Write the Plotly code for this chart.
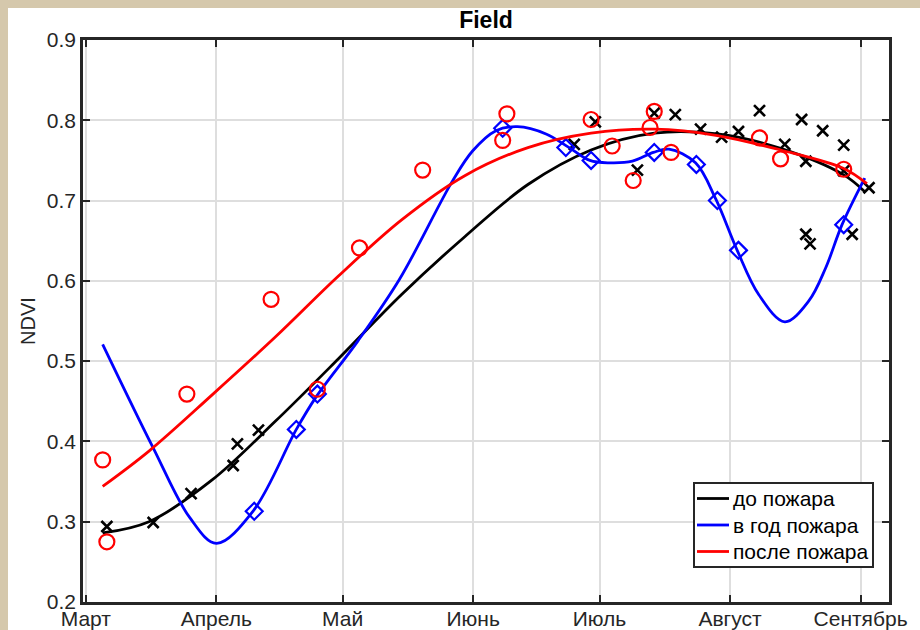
import pandas as pd
import plotly.graph_objects as go

SEASON_START = pd.Timestamp("2021-03-01")

# Month ticks
month_ticks = ["2021-03-01", "2021-04-01", "2021-05-01", "2021-06-01",
               "2021-07-01", "2021-08-01", "2021-09-01"]
month_labels = ["Март", "Апрель", "Май", "Июнь", "Июль", "Август", "Сентябрь"]

# до пожара — observations
before_dates = ["2021-03-06", "2021-03-17", "2021-03-26", "2021-04-05", "2021-04-06",
                "2021-04-11", "2021-06-25", "2021-06-30", "2021-07-10", "2021-07-14",
                "2021-07-19", "2021-07-25", "2021-07-30", "2021-08-03", "2021-08-08",
                "2021-08-14", "2021-08-18", "2021-08-19", "2021-08-19", "2021-08-20",
                "2021-08-23", "2021-08-28", "2021-08-28", "2021-08-30", "2021-09-03"]
before_ndvi = [0.294, 0.299, 0.335, 0.370, 0.397, 0.414, 0.770, 0.798, 0.738, 0.809,
               0.807, 0.789, 0.779, 0.786, 0.812, 0.770, 0.801, 0.749, 0.658, 0.646,
               0.787, 0.769, 0.737, 0.658, 0.716]

# в год пожара — observations
fire_dates = ["2021-04-10", "2021-04-20", "2021-04-25", "2021-06-08", "2021-06-23",
              "2021-06-29", "2021-07-14", "2021-07-24", "2021-07-29", "2021-08-03",
              "2021-08-28"]
fire_ndvi = [0.313, 0.415, 0.459, 0.790, 0.766, 0.750, 0.760, 0.745, 0.700, 0.638, 0.670]

# после пожара — observations
after_dates = ["2021-03-05", "2021-03-06", "2021-03-25", "2021-04-14", "2021-04-25",
               "2021-05-05", "2021-05-20", "2021-06-08", "2021-06-09", "2021-06-29",
               "2021-07-04", "2021-07-09", "2021-07-13", "2021-07-14", "2021-07-18",
               "2021-08-08", "2021-08-13", "2021-08-28"]
after_ndvi = [0.377, 0.275, 0.459, 0.577, 0.465, 0.641, 0.738, 0.775, 0.808, 0.801,
              0.768, 0.725, 0.791, 0.811, 0.760, 0.778, 0.752, 0.739]

# Fitted seasonal curves (days after 1 March, NDVI)
before_fit_days = [4, 15, 30, 45, 60, 75, 90, 105, 120, 135, 150, 165, 180, 185]
before_fit_ndvi = [0.286, 0.300, 0.352, 0.425, 0.503, 0.583, 0.655, 0.720, 0.763,
                   0.784, 0.783, 0.765, 0.732, 0.711]

fire_fit_days = [4, 16.0, 24.7, 31.0, 39.7, 50.0, 54.7, 64.6, 74.5, 87.1, 91.9, 97.4,
                 102.5, 109.3, 114.8, 119.7, 124.3, 129.8, 134.8, 138.5, 144.8, 149.6,
                 154.7, 159.8, 166.0, 171.7, 175.7, 179.6, 185.0]
fire_fit_ndvi = [0.521, 0.392, 0.305, 0.273, 0.313, 0.415, 0.4555, 0.525, 0.602, 0.7245,
                 0.762, 0.787, 0.792, 0.783, 0.766, 0.750, 0.747, 0.749, 0.760, 0.764,
                 0.747, 0.702, 0.638, 0.583, 0.549, 0.575, 0.616, 0.670, 0.728]

after_fit_days = [4, 15, 30, 45, 60, 75, 90, 105, 120, 135, 150, 165, 180, 185.5]
after_fit_ndvi = [0.344, 0.388, 0.458, 0.530, 0.606, 0.676, 0.731, 0.766, 0.784,
                  0.789, 0.781, 0.763, 0.740, 0.721]


def to_dates(days):
    return SEASON_START + pd.to_timedelta(days, unit="D")


FONT = "Liberation Sans, Arial, Helvetica, sans-serif"
AX = "#262626"

fig = go.Figure()

series = [
    ("до пожара", "#000000", before_dates, before_ndvi, before_fit_days, before_fit_ndvi,
     dict(symbol="x-thin-open", size=11, line=dict(width=2.6, color="#000000"))),
    ("в год пожара", "#0000ff", fire_dates, fire_ndvi, fire_fit_days, fire_fit_ndvi,
     dict(symbol="diamond-open", size=13, line=dict(width=2.2, color="#0000ff"))),
    ("после пожара", "#ff0000", after_dates, after_ndvi, after_fit_days, after_fit_ndvi,
     dict(symbol="circle-open", size=15, line=dict(width=2.2, color="#ff0000"))),
]

for name, color, d, v, fd, fv, mk in series:
    fig.add_trace(go.Scatter(
        x=pd.to_datetime(d), y=v, mode="markers", marker=dict(color=color, **mk),
        showlegend=False, hoverinfo="x+y"))
    fig.add_trace(go.Scatter(
        x=to_dates(fd), y=fv, mode="lines", name=name, showlegend=False,
        line=dict(color=color, width=2.8, shape="spline", smoothing=1.0)))

# page geometry (pixels)
L, R, T, B = 83, 31, 40, 28
W, H = 920, 630
pw, ph = W - L - R, H - T - B


def px_x(x):
    return (x - L) / pw


def px_y(y):
    return (H - B - y) / ph


# white figure area over the beige page
shapes = [dict(type="rect", xref="paper", yref="paper", layer="below",
               x0=px_x(8), x1=px_x(W + 2), y0=px_y(H + 2), y1=px_y(8),
               fillcolor="white", line=dict(width=0))]
annotations = []

# legend box with line samples
shapes.append(dict(type="rect", xref="paper", yref="paper", layer="above",
                   x0=px_x(694), x1=px_x(873), y0=px_y(567), y1=px_y(483),
                   fillcolor="white", line=dict(color=AX, width=2)))
for i, (name, color, *_rest) in enumerate(series):
    yy = 498.5 + 26.5 * i
    shapes.append(dict(type="line", xref="paper", yref="paper", layer="above",
                       x0=px_x(697), x1=px_x(729), y0=px_y(yy), y1=px_y(yy),
                       line=dict(color=color, width=2.8)))
    annotations.append(dict(xref="paper", yref="paper", x=px_x(731), y=px_y(yy),
                            xanchor="left", yanchor="middle", showarrow=False,
                            text=name, font=dict(family=FONT, size=21, color="#000000")))

axis_common = dict(
    showline=True, linewidth=2.6, linecolor=AX, mirror="ticks",
    ticks="inside", ticklen=7, tickwidth=2, tickcolor=AX,
    showgrid=True, gridcolor="#dedede", gridwidth=2, zeroline=False,
    automargin=False,
    tickfont=dict(family=FONT, size=21, color=AX),
)

fig.update_layout(
    width=W, height=H, autosize=False,
    margin=dict(l=L, r=R, t=T, b=B),
    paper_bgcolor="#d5c8ac", plot_bgcolor="white",
    title=dict(text="<b>Field</b>", x=(L + pw / 2) / W, xanchor="center",
               y=1 - 20 / H, yanchor="middle",
               font=dict(family=FONT, size=23, color="#000000")),
    xaxis=dict(type="date", range=["2021-02-28 08:00", "2021-09-07 18:00"],
               tickmode="array", tickvals=month_ticks, ticktext=month_labels,
               ticklabelstandoff=-4,
               **axis_common),
    yaxis=dict(range=[0.2, 0.9], dtick=0.1, tick0=0.2, tickformat=".1f",
               title=dict(text="NDVI", standoff=6,
                          font=dict(family=FONT, size=20, color=AX)),
               **axis_common),
    shapes=shapes,
    annotations=annotations,
    showlegend=False,
)

fig.write_html("out.html")
